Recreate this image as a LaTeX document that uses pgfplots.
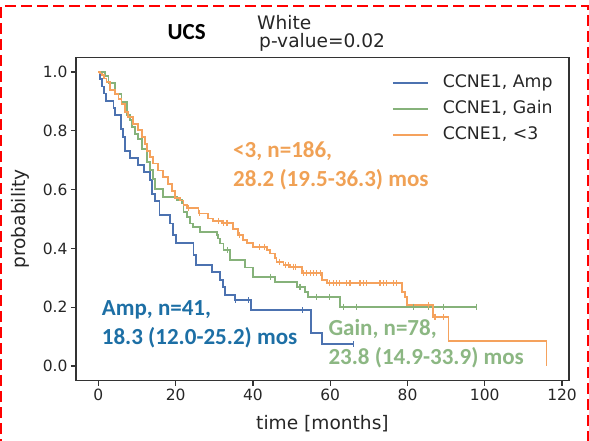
\documentclass[border=0pt]{standalone}
\usepackage{fontspec}
\setmainfont{DejaVu Sans}
\newfontfamily\calib{Carlito}
\usepackage{pgfplots}
\pgfplotsset{compat=1.18}
\definecolor{ampblue}{HTML}{4C72B0}
\definecolor{gaingreen}{HTML}{86B27A}
\definecolor{lowor}{HTML}{F5A25D}
\definecolor{txtblue}{HTML}{1D6FA5}
\definecolor{txtgreen}{HTML}{8CB783}
\definecolor{txtorange}{HTML}{F0A155}
\definecolor{axgray}{HTML}{333333}
\definecolor{txtgray}{HTML}{262626}

\begin{document}
\begin{tikzpicture}
\useasboundingbox (0,0) rectangle (589pt,440pt);
\begin{axis}[
  at={(76pt,59.3pt)}, anchor=south west,
  width=493pt, height=323.4pt, scale only axis,
  xmin=-5.8, xmax=121.8, ymin=-0.05, ymax=1.05,
  xtick={0,20,40,60,80,100,120},
  ytick={0,0.2,0.4,0.6,0.8,1.0},
  yticklabel style={/pgf/number format/.cd, fixed, fixed zerofill, precision=1},
  /pgf/number format/assume math mode=true,
  axis line style={draw=axgray, line width=1.2pt},
  tick style={draw=axgray, line width=1.2pt},
  tick align=outside, xtick pos=bottom, ytick pos=left,
  major tick length=5pt,
  ticklabel style={font=\fontsize{15.5}{18}\selectfont, text=txtgray},
  xlabel={time [months]}, ylabel={probability},
  label style={font=\fontsize{18.6}{22}\selectfont, text=txtgray},
  xlabel style={at={(axis description cs:0.5,-0.133)}, anchor=center},
  ylabel style={at={(axis description cs:-0.112,0.5)}, anchor=center},
  legend style={draw=none, fill=none, inner sep=0pt, outer sep=0pt,
    at={(0.641,0.948)}, anchor=north west,
    font=\fontsize{17.3}{20}\selectfont, text=txtgray,
    nodes={inner sep=1pt, text height=12.5pt, text depth=3.5pt},
    row sep=8pt,
    /tikz/every odd column/.append style={column sep=13pt}},
  legend cell align=left,
  legend image code/.code={\draw[#1] (0pt,0pt) -- (35pt,0pt);},
]
% CCNE1, Amp
\addplot[const plot, color=ampblue, line width=1.8pt] coordinates {
  (0,1.0) (0.5,0.976) (0.9,0.951) (1.45,0.927) (2.0,0.902) (3.9,0.878)
  (4.3,0.854) (5.8,0.805) (6.3,0.780) (6.8,0.732) (8.2,0.707) (10.3,0.683)
  (11.9,0.659) (13.4,0.634) (13.8,0.585) (14.6,0.561) (15.8,0.514)
  (18.5,0.485) (19.4,0.446) (20.1,0.418) (24.6,0.378) (25.3,0.343)
  (29.3,0.320) (31.5,0.293) (32.3,0.268) (32.8,0.241) (35.4,0.224)
  (39.5,0.190) (55.0,0.111) (57.8,0.074) (66.1,0.074)
};
\addlegendentry{CCNE1, Amp}
% CCNE1, Gain
\addplot[const plot, color=gaingreen, line width=1.8pt] coordinates {
  (0,1.0) (1.7,0.987) (2.6,0.962) (4.3,0.926) (6.0,0.898) (7.3,0.853)
  (8.2,0.836) (8.6,0.813) (9.5,0.790) (10.3,0.773) (11.2,0.739)
  (12.5,0.694) (13.4,0.666) (14.2,0.637) (14.6,0.603) (16.8,0.575)
  (20.3,0.565) (21.6,0.553) (22.0,0.524) (23.0,0.508) (23.7,0.485)
  (24.5,0.474) (26.3,0.457) (30.6,0.446) (31.0,0.434) (31.5,0.417)
  (32.4,0.395) (34.1,0.360) (37.9,0.335) (40.1,0.304) (45.7,0.287)
  (51.3,0.270) (53.5,0.253) (54.3,0.236) (62.5,0.202) (97.9,0.202)
};
\addlegendentry{CCNE1, Gain}
% CCNE1, <3
\addplot[const plot, color=lowor, line width=1.8pt] coordinates {
  (0,1.0) (0.5,0.995) (1.0,0.989) (1.5,0.978) (2.1,0.966) (3.0,0.938)
  (4.3,0.926) (5.2,0.909) (6.0,0.892) (6.9,0.864) (7.7,0.847) (9.0,0.824)
  (10.3,0.802) (11.2,0.779) (12.1,0.756) (12.5,0.730) (13.4,0.710)
  (14.2,0.689) (15.5,0.665) (16.8,0.642) (18.1,0.619) (19.0,0.595)
  (19.8,0.572) (21.1,0.563) (22.0,0.548) (22.9,0.537) (25.9,0.519)
  (28.4,0.502) (29.7,0.494) (31.9,0.487) (34.9,0.466) (36.2,0.446)
  (37.5,0.429) (38.4,0.418) (40.1,0.406) (43.6,0.395) (44.4,0.383)
  (45.7,0.366) (46.1,0.355) (47.9,0.344) (49.6,0.338) (52.6,0.315)
  (57.8,0.293) (59.1,0.281) (78.5,0.253) (79.4,0.236) (79.8,0.207)
  (86.7,0.168) (90.6,0.086) (116.0,0.0)
};
\addlegendentry{CCNE1, <3}
% censored observations
\addplot[only marks, mark=|, mark size=3pt, color=ampblue, line width=1.2pt, forget plot] coordinates {
  (35.4,0.224) (38.8,0.224) (52.9,0.190) (66.1,0.074)
};
\addplot[only marks, mark=|, mark size=3pt, color=gaingreen, line width=1.2pt, forget plot] coordinates {
  (33.4,0.395) (44.5,0.304) (52.2,0.270) (56.5,0.236) (59.9,0.236)
  (63.4,0.202) (66.8,0.202) (81.5,0.202) (85.4,0.202) (89.3,0.202) (97.9,0.202)
};
\addplot[only marks, mark=|, mark size=3pt, color=lowor, line width=1.2pt, forget plot] coordinates {
  (23.3,0.537) (26.2,0.519) (31.0,0.494) (32.3,0.487) (33.3,0.487)
  (36.6,0.446) (41.6,0.406) (43.0,0.406) (46.8,0.355) (48.5,0.344)
  (49.1,0.344) (50.4,0.338) (51.0,0.338) (53.0,0.315) (53.9,0.315)
  (54.8,0.315) (55.6,0.315) (56.5,0.315) (57.4,0.315) (59.9,0.281)
  (60.8,0.281) (61.7,0.281) (62.5,0.281) (64.3,0.281) (65.1,0.281)
  (67.7,0.281) (68.6,0.281) (69.4,0.281) (72.9,0.281) (73.7,0.281)
  (74.6,0.281) (76.3,0.281) (77.2,0.281) (85.4,0.207) (87.1,0.168) (89.3,0.168)
};
\end{axis}
% titles
\node[anchor=base west, font=\calib\bfseries\fontsize{23}{27}\selectfont, text=black, inner sep=0pt] at (167.5pt,400.7pt) {UCS};
\node[anchor=base west, font=\fontsize{18.6}{22}\selectfont, text=txtgray, inner sep=0pt] at (257pt,410.7pt) {White};
\node[anchor=base west, font=\fontsize{18.6}{22}\selectfont, text=txtgray, inner sep=0pt] at (259pt,392.5pt) {p-value=0.02};
% group annotations
\node[anchor=base west, font=\calib\bfseries\fontsize{23}{27}\selectfont, text=txtorange, inner sep=0pt] at (233pt,282.3pt) {<3, n=186,};
\node[anchor=base west, font=\calib\bfseries\fontsize{23}{27}\selectfont, text=txtorange, inner sep=0pt] at (233pt,253.3pt) {28.2 (19.5-36.3) mos};
\node[anchor=base west, font=\calib\bfseries\fontsize{23}{27}\selectfont, text=txtblue, inner sep=0pt] at (101.7pt,125pt) {Amp, n=41,};
\node[anchor=base west, font=\calib\bfseries\fontsize{23}{27}\selectfont, text=txtblue, inner sep=0pt] at (101.7pt,96pt) {18.3 (12.0-25.2) mos};
\node[anchor=base west, font=\calib\bfseries\fontsize{23}{27}\selectfont, text=txtgreen, inner sep=0pt] at (328.3pt,105pt) {Gain, n=78,};
\node[anchor=base west, font=\calib\bfseries\fontsize{23}{27}\selectfont, text=txtgreen, inner sep=0pt] at (328.3pt,76pt) {23.8 (14.9-33.9) mos};
% dashed frame
\draw[red, line width=2pt, dash pattern=on 11pt off 5pt] (1pt,-10pt) -- (1pt,434pt) -- (588pt,434pt) -- (588pt,-10pt);
\end{tikzpicture}
\end{document}
